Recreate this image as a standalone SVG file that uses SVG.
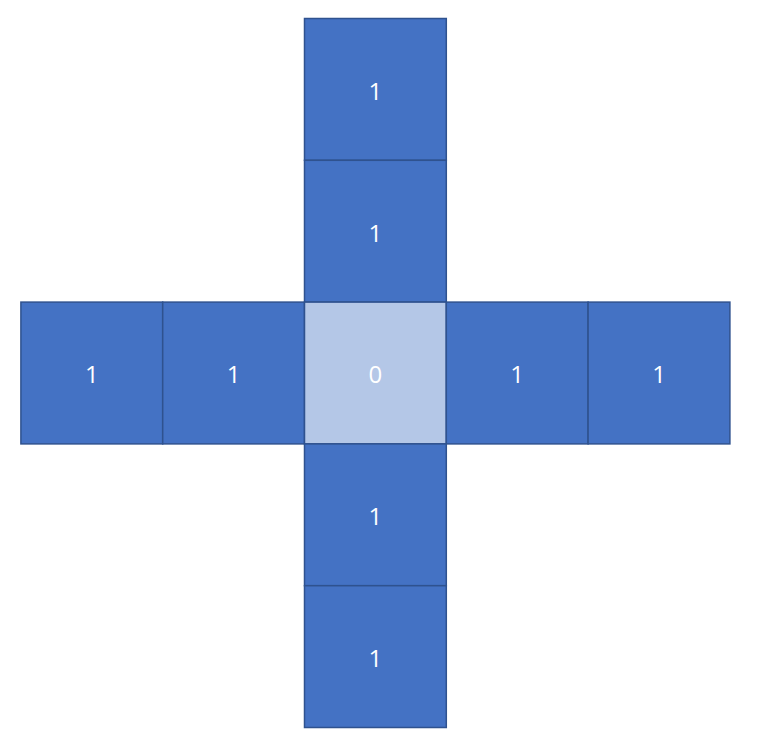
<svg xmlns="http://www.w3.org/2000/svg" width="762" height="745" viewBox="0 0 762 745">
<style>
.c{fill:#4472C4;stroke:#2F528F;stroke-width:1.5}
.z{fill:#B4C7E7;stroke:#2F528F;stroke-width:1.5}
.t{fill:#FFFFFF;font-family:"Open Sans","Liberation Sans",sans-serif;font-size:24px;text-anchor:middle;dominant-baseline:central}
</style>
<rect width="762" height="745" fill="#FFFFFF"/>
<g id="connectors"></g>
<g id="n_top2"><rect class="c" x="304.5" y="18.5" width="141.8" height="141.8"/><text class="t" x="375.4" y="90">1</text></g>
<g id="n_top1"><rect class="c" x="304.5" y="160.3" width="141.8" height="141.8"/><text class="t" x="375.4" y="232">1</text></g>
<g id="n_left2"><rect class="c" x="20.9" y="302.1" width="141.8" height="141.8"/><text class="t" x="91.8" y="373">1</text></g>
<g id="n_left1"><rect class="c" x="162.7" y="302.1" width="141.8" height="141.8"/><text class="t" x="233.6" y="373">1</text></g>
<g id="n_center"><rect class="z" x="304.5" y="302.1" width="141.8" height="141.8"/><text class="t" x="375.4" y="373">0</text></g>
<g id="n_right1"><rect class="c" x="446.3" y="302.1" width="141.8" height="141.8"/><text class="t" x="517.2" y="373">1</text></g>
<g id="n_right2"><rect class="c" x="588.1" y="302.1" width="141.8" height="141.8"/><text class="t" x="659" y="373">1</text></g>
<g id="n_bot1"><rect class="c" x="304.5" y="443.9" width="141.8" height="141.8"/><text class="t" x="375.4" y="515">1</text></g>
<g id="n_bot2"><rect class="c" x="304.5" y="585.7" width="141.8" height="141.8"/><text class="t" x="375.4" y="657">1</text></g>
</svg>
